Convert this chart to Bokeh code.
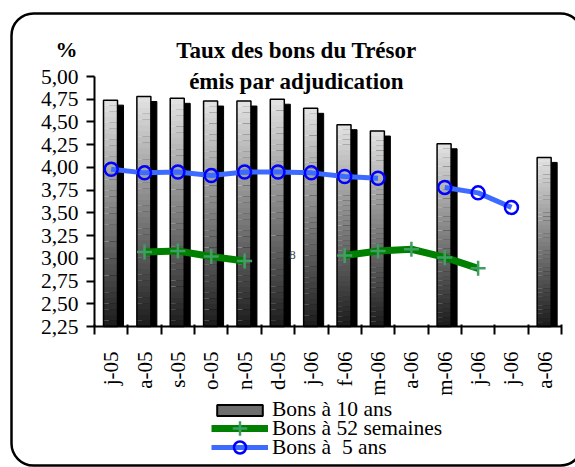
import math
from bokeh.plotting import figure
from bokeh.models import (Range1d, FixedTicker, CustomJSTickFormatter, Label,
                          Legend, LegendItem)
from bokeh.embed import file_html
from bokeh.resources import INLINE

nan = float("nan")

# ---- data ----
months = ["j-05", "a-05", "s-05", "o-05", "n-05", "d-05", "j-06", "f-06",
          "m-06", "a-06", "m-06", "j-06", "j-06", "a-06"]
bons_10_ans = [4.74, 4.78, 4.76, 4.73, 4.73, 4.75, 4.65, 4.47, 4.40, nan,
               4.26, nan, nan, 4.11]
bons_52_semaines = [nan, 3.07, 3.08, 3.02, 2.97, nan, nan, 3.03, 3.08, 3.10,
                    3.01, 2.89, nan, nan]
bons_5_ans = [3.98, 3.94, 3.95, 3.91, 3.95, 3.95, 3.94, 3.90, 3.88, nan,
              3.78, 3.72, 3.56, nan]
y_ticks = [2.25, 2.50, 2.75, 3.00, 3.25, 3.50, 3.75, 4.00, 4.25, 4.50, 4.75, 5.00]
series_names = ["Bons à 10 ans", "Bons à 52 semaines", "Bons à  5 ans"]

FONT = "Liberation Serif"
W, H = 575, 467
n = len(months)
Y0, Y1 = y_ticks[0], y_ticks[-1]

# plot area of the reference in pixels (left, right, top, bottom)
FL, FR, FT, FB = 94.0, 561.0, 76.0, 326.0
sx = (FR - FL) / n            # px per category
sy = (FB - FT) / (Y1 - Y0)    # px per unit of rate


def dx(px):
    return (px - FL) / sx


def dy(py):
    return Y0 + (FB - py) / sy


# the frame covers the whole canvas; axes are pinned with fixed_location
p = figure(width=W, height=H, output_backend="svg", toolbar_location=None,
           x_range=Range1d(dx(0), dx(W)), y_range=Range1d(dy(H), dy(0)),
           min_border=0)
p.outline_line_color = None
p.xgrid.visible = False
p.ygrid.visible = False
p.background_fill_color = "white"
p.border_fill_color = "white"

# ---- rounded frame around the chart ----
p.quad(left=[dx(11)], right=[dx(582)], top=[dy(13)], bottom=[dy(465)],
       border_radius=22, fill_color=None, line_color="black", line_width=2.5)

# ---- bars: shadow, gradient body, outline ----
centers = [i + 0.5 for i in range(n)]
front_off, bar_w = -0.02, 0.42
sh_dx, sh_dy = 6 / sx, 5 / sy
sh_l, sh_r, sh_t, sh_b = [], [], [], []
gl, gr, gt, gb, gc = [], [], [], [], []
ol, orr, ot, ob = [], [], [], []
N = 40
for c, v in zip(centers, bons_10_ans):
    if math.isnan(v):
        continue
    fx = c + front_off
    sh_l.append(fx - bar_w / 2 + sh_dx); sh_r.append(fx + bar_w / 2 + sh_dx)
    sh_t.append(v - sh_dy); sh_b.append(Y0)
    for k in range(N):
        b = Y0 + (v - Y0) * k / N
        t = Y0 + (v - Y0) * (k + 1) / N
        frac = (k + 0.5) / N
        g = int(28 + (228 - 28) * frac)
        gl.append(fx - bar_w / 2); gr.append(fx + bar_w / 2)
        gb.append(b); gt.append(t + 0.002)
        gc.append("#%02x%02x%02x" % (g, g, g))
    ol.append(fx - bar_w / 2); orr.append(fx + bar_w / 2); ot.append(v); ob.append(Y0)

p.quad(left=sh_l, right=sh_r, top=sh_t, bottom=sh_b, fill_color="black",
       line_color="black")
p.quad(left=gl, right=gr, top=gt, bottom=gb, fill_color=gc, line_color=None)
p.quad(left=ol, right=orr, top=ot, bottom=ob, fill_color=None,
       line_color="black", line_width=1.5)
leg_bar = p.quad(left=[nan], right=[nan], top=[nan], bottom=[nan],
                 fill_color="#6e6e6e", line_color="black", line_width=2)

# ---- lines ----
g_line = p.line(centers, bons_52_semaines, line_color="#008000", line_width=7)
g_mark = p.scatter(centers, bons_52_semaines, marker="cross", size=15,
                   line_color="#3f9f62", line_width=2.5)
b_line = p.line(centers, bons_5_ans, line_color="#3d6bff", line_width=5)
b_mark = p.scatter(centers, bons_5_ans, marker="circle", size=13,
                   fill_color=None, line_color="#0000ff", line_width=2.5)

# ---- axes ----
xa = p.xaxis[0]
xa.fixed_location = Y0
xa.bounds = (0, n)
xa.ticker = FixedTicker(ticks=centers, minor_ticks=list(range(n + 1)))
xa.formatter = CustomJSTickFormatter(args=dict(labels=months),
                                     code="return labels[Math.floor(tick)];")
xa.major_label_orientation = math.pi / 2
xa.major_tick_out = 0
xa.major_tick_in = 0
xa.minor_tick_out = 8
xa.minor_tick_in = 2
xa.minor_tick_line_color = "black"
xa.minor_tick_line_width = 2
xa.axis_line_width = 2
xa.axis_line_color = "black"
xa.major_label_standoff = 17
xa.major_label_text_font = FONT
xa.major_label_text_font_size = "21px"
xa.major_label_text_color = "black"

ya = p.yaxis[0]
ya.fixed_location = 0
ya.bounds = (Y0, Y1)
ya.ticker = FixedTicker(ticks=y_ticks)
ya.formatter = CustomJSTickFormatter(code="return tick.toFixed(2).replace('.', ',');")
ya.major_tick_out = 8
ya.major_tick_in = 0
ya.minor_tick_out = 0
ya.minor_tick_in = 0
ya.major_tick_line_width = 2
ya.axis_line_width = 2
ya.axis_line_color = "black"
ya.major_tick_line_color = "black"
ya.major_label_standoff = 8
ya.major_label_text_font = FONT
ya.major_label_text_font_size = "21.5px"
ya.major_label_text_color = "black"

# ---- titles / texts ----
for txt, base in [("Taux des bons du Trésor", 50), ("émis par adjudication", 81)]:
    p.add_layout(Label(x=dx(296), y=dy(base), text=txt, text_align="center",
                       text_baseline="alphabetic", text_font=FONT,
                       text_font_size="23px", text_font_style="bold",
                       text_color="black"))
p.add_layout(Label(x=dx(55), y=dy(48.5), text="%", text_align="left",
                   text_baseline="alphabetic", text_font=FONT,
                   text_font_size="22px", text_font_style="bold",
                   text_color="black"))
p.add_layout(Label(x=dx(292), y=dy(254), text="8", text_align="center",
                   text_baseline="middle", text_font=FONT,
                   text_font_size="13px", text_color="#444444"))

# ---- legend: one legend per row so that rows can sit close together ----
rows = [
    (series_names[0], [leg_bar], 14, 409),
    (series_names[1], [g_line, g_mark], 36, 428),
    (series_names[2], [b_line, b_mark], 30, 447),
]
for label, rends, gh, cy in rows:
    item_h = max(gh, 26)
    leg = Legend(items=[LegendItem(label=label, renderers=rends)],
                 location=(211, H - (cy + item_h / 2)), orientation="vertical",
                 glyph_width=57, glyph_height=gh, label_standoff=4,
                 spacing=0, padding=0, margin=0,
                 border_line_color=None, background_fill_alpha=0,
                 label_text_font=FONT, label_text_font_size="21.5px",
                 label_text_color="black")
    p.add_layout(leg, "center")

open("out.html", "w").write(file_html(p, INLINE))
